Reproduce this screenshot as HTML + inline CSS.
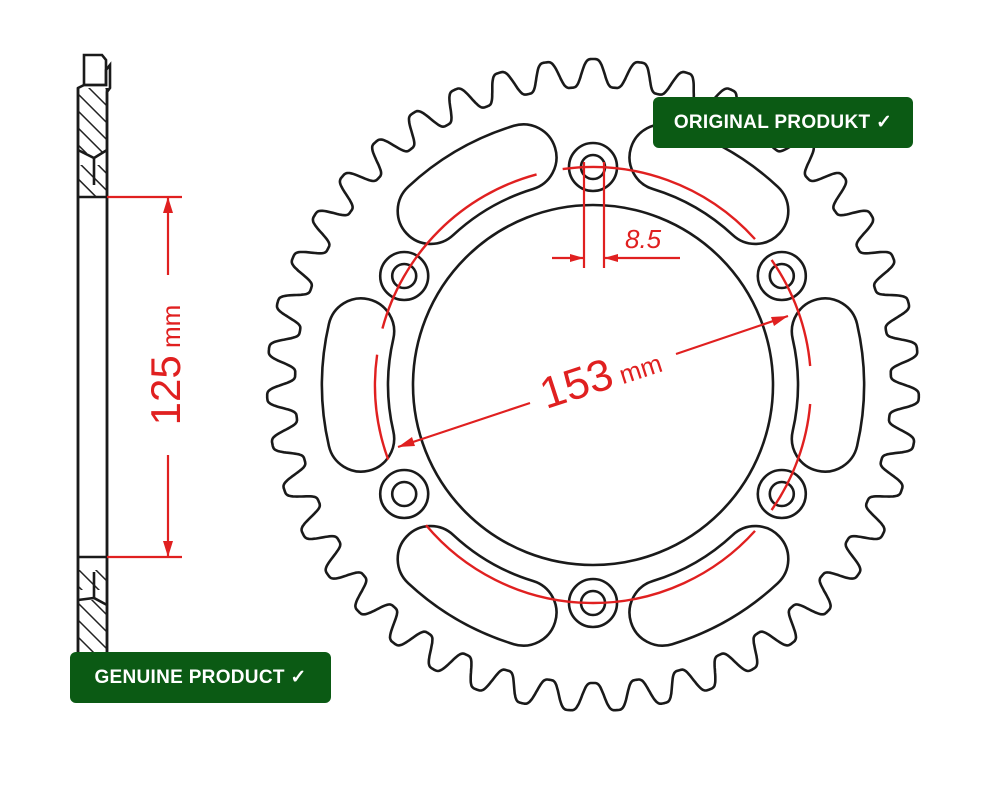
<!DOCTYPE html>
<html><head><meta charset="utf-8"><style>
html,body{margin:0;padding:0;background:#fff;width:984px;height:800px;overflow:hidden}
.badge{position:absolute;background:#0b5a14;color:#fff;font-family:"Liberation Sans",sans-serif;font-weight:bold;font-size:19px;border-radius:6px;display:flex;align-items:center;justify-content:center;letter-spacing:0.3px}
</style></head><body>
<svg id="s" width="984" height="800" style="position:absolute;left:0;top:0" xmlns="http://www.w3.org/2000/svg">
<defs>
<pattern id="h" width="12" height="12" patternUnits="userSpaceOnUse" patternTransform="rotate(-45)">
<line x1="0" y1="0" x2="0" y2="12" stroke="#222" stroke-width="3"/>
</pattern>
</defs>
<g fill="none" stroke="#1a1a1a" stroke-width="2.6">
<path d="M84 55 L102 55 L106 60 L106 85 L84 85 Z"/>
<path d="M78 88 L84 85 L106 85 L106 70 L110 65 L110 88 L107 92 L107 700 L78 700 Z"/>
<rect x="79" y="88" width="27" height="65" fill="url(#h)" stroke="none"/>
<rect x="79" y="165" width="27" height="32" fill="url(#h)" stroke="none"/>
<rect x="79" y="570" width="27" height="20" fill="url(#h)" stroke="none"/>
<rect x="79" y="600" width="27" height="52" fill="url(#h)" stroke="none"/>
<path d="M78 150 L94 158 L107 150 M94 158 L94 185 M78 197 L107 197 M78 557 L107 557 M94 572 L94 598 M78 600 L94 598 L107 605"/>
<path d="M78 88 L78 700 M107 88 L107 700"/>
<path id="teeth"/>
<circle cx="593" cy="385" r="180"/>
<g id="holes"></g>
<g id="slots"></g>
</g>
<g stroke="#e02020" stroke-width="2.2" fill="none">
<line x1="107" y1="197" x2="182" y2="197"/>
<line x1="107" y1="557" x2="182" y2="557"/>
<line x1="168" y1="197" x2="168" y2="275"/>
<line x1="168" y1="455" x2="168" y2="557"/>
<path d="M584 162 L584 268 M604 162 L604 268 M552 258 L584 258 M604 258 L680 258"/>
<path d="M398 447 L530 403 M676 354 L788 316"/>
</g>
<g fill="#e02020">
<path d="M168 197 l-5 16 l10 0z M168 557 l-5 -16 l10 0z"/>
<path d="M584 258 l-14 -4 l0 8z M604 258 l14 -4 l0 8z"/>
<path d="M398 447 l14 -10 l3 9z M788 316 l-14 10 l-3 -9z"/>
</g>
<g fill="#e02020" font-family="Liberation Sans,sans-serif">
<text x="0" y="0" transform="translate(180,365) rotate(-90)" text-anchor="middle" font-size="42">125<tspan font-size="26"> mm</tspan></text>
<text x="625" y="248" font-size="26" font-style="italic">8.5</text>
<text x="0" y="0" transform="translate(605,390) rotate(-18)" text-anchor="middle" font-size="44">153<tspan font-size="26"> mm</tspan></text>
</g>
<path id="redarc" stroke="#e02020" stroke-width="2.4" fill="none"/>
</svg>
<div class="badge" style="left:653px;top:97px;width:260px;height:51px">ORIGINAL PRODUKT ✓</div>
<div class="badge" style="left:70px;top:652px;width:261px;height:51px">GENUINE PRODUCT ✓</div>
<script>
var cx=593,cy=385,N=43,rt=326,rr=298,d="";
for(var i=0;i<=2580;i++){var t=i/2580*2*Math.PI;var ph=(t*N/(2*Math.PI))%1;var c=Math.cos(2*Math.PI*ph);var f=(1+c)/2;f=f*f*(3-2*f);var r=rr+(rt-rr)*f;var a=-Math.PI/2+t;d+=(i?"L":"M")+(cx+r*Math.cos(a)).toFixed(1)+" "+(cy+r*Math.sin(a)).toFixed(1);}
document.getElementById("teeth").setAttribute("d",d+"Z");
var H="",S="",R=218;
function P(r,a){return (cx+r*Math.cos(a)).toFixed(1)+" "+(cy+r*Math.sin(a)).toFixed(1);}
for(var k=0;k<6;k++){var a=(-90+60*k)*Math.PI/180;var x=cx+R*Math.cos(a),y=cy+R*Math.sin(a);H+='<circle cx="'+x+'" cy="'+y+'" r="24"/><circle cx="'+x+'" cy="'+y+'" r="12"/>';
var b=(-60+60*k)*Math.PI/180,rm=238,w=33,da=13*Math.PI/180;var a1=b-da,a2=b+da;
S+='<path d="M'+P(rm+w,a1)+' A'+(rm+w)+' '+(rm+w)+' 0 0 1 '+P(rm+w,a2)+' A'+w+' '+w+' 0 0 1 '+P(rm-w,a2)+' A'+(rm-w)+' '+(rm-w)+' 0 0 0 '+P(rm-w,a1)+' A'+w+' '+w+' 0 0 1 '+P(rm+w,a1)+' Z"/>';}
document.getElementById("holes").innerHTML=H;document.getElementById("slots").innerHTML=S;
var rA=218,dd="";
[[195,255],[262,290],[290,318],[325,355],[5,35],[42,140],[160,188]].forEach(function(s){var a1=s[0]*Math.PI/180,a2=s[1]*Math.PI/180;dd+="M"+(cx+rA*Math.cos(a1))+" "+(cy+rA*Math.sin(a1))+"A"+rA+" "+rA+" 0 0 1 "+(cx+rA*Math.cos(a2))+" "+(cy+rA*Math.sin(a2));});
document.getElementById("redarc").setAttribute("d",dd);
</script>
</body></html>
